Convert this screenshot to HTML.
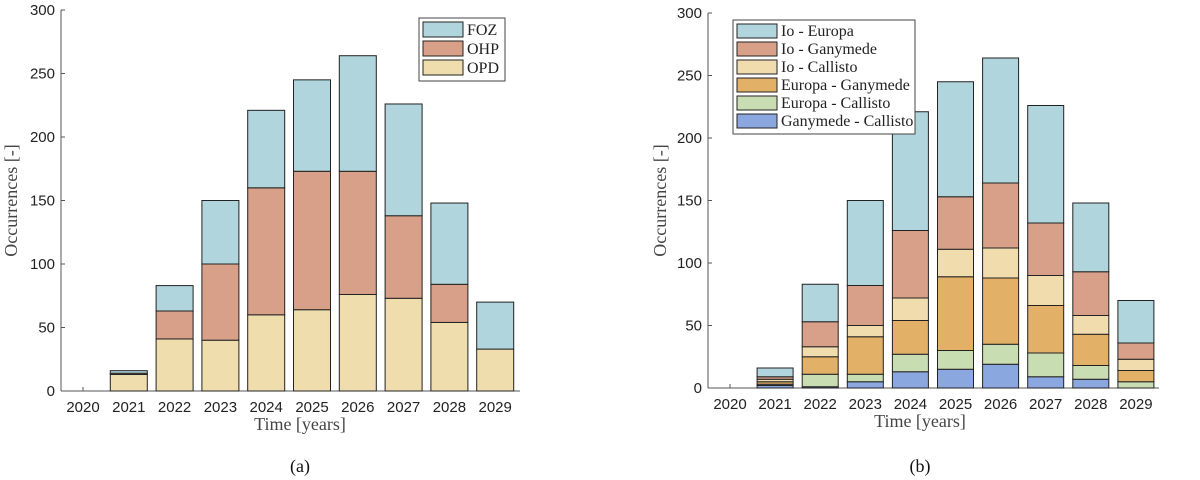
<!DOCTYPE html>
<html><head><meta charset="utf-8"><style>
html,body{margin:0;padding:0;background:#fff;width:1200px;height:480px;overflow:hidden}
svg text{font-family:"Liberation Sans",sans-serif}
.serif{font-family:"Liberation Serif",serif}
</style></head><body>
<svg id="svg" width="1200" height="480" xmlns="http://www.w3.org/2000/svg"></svg>
<script>
const years=[2020,2021,2022,2023,2024,2025,2026,2027,2028,2029];
const yTicks=[0,50,100,150,200,250,300];
// chart a (bottom to top)
const aNames=["OPD","OHP","FOZ"];
const opd=[0,13,41,40,60,64,76,73,54,33];
const ohp=[0,1,22,60,100,109,97,65,30,0];
const foz=[0,2,20,50,61,72,91,88,64,37];
// chart b (bottom to top)
const bNames=["Ganymede - Callisto","Europa - Callisto","Europa - Ganymede","Io - Callisto","Io - Ganymede","Io - Europa"];
const ganCal=[0,2,1,5,13,15,19,9,7,0];
const eurCal=[0,1,10,6,14,15,16,19,11,5];
const eurGan=[0,2,14,30,27,59,53,38,25,9];
const ioCal=[0,2,8,9,18,22,24,24,15,9];
const ioGan=[0,2,20,32,54,42,52,42,35,13];
const ioEur=[0,7,30,68,95,92,100,94,55,34];

const NS="http://www.w3.org/2000/svg";
const svg=document.getElementById('svg');
function mk(tag,attrs,parent,text){const e=document.createElementNS(NS,tag);for(const k in attrs)e.setAttribute(k,attrs[k]);if(text!==undefined)e.textContent=text;(parent||svg).appendChild(e);return e;}

function chart(cfg){
  const g=mk('g',{});
  
  
  const y=v=>cfg.y0-(v/300)*(cfg.y0-cfg.y300);
  const x=i=>cfg.x2020+i*cfg.step;
  const ax=mk('line',{x1:cfg.left,y1:cfg.y0,x2:cfg.left,y2:cfg.y300,stroke:'#555','stroke-width':1},g);
  
  
  const bx=mk('line',{x1:cfg.left,y1:cfg.y0,x2:cfg.right,y2:cfg.y0,stroke:'#555','stroke-width':1},g);
  
  
  yTicks.forEach(t=>{
    mk('line',{x1:cfg.left,y1:y(t),x2:cfg.left+4,y2:y(t),stroke:'#555'},g);
    const tl=mk('text',{x:cfg.left-6,y:y(t)+5,'text-anchor':'end','font-size':15,fill:'#222'},g,t);
    
    
  });
  years.forEach((yr,i)=>{
    mk('line',{x1:x(i),y1:cfg.y0,x2:x(i),y2:cfg.y0-4,stroke:'#555'},g);
    const tl=mk('text',{x:x(i),y:cfg.y0+21,'text-anchor':'middle','font-size':15,fill:'#222'},g,yr);
    
    
  });
  years.forEach((yr,i)=>{
    let cum=0;
    cfg.series.forEach((s,k)=>{
      const v=s[i];
      const r=mk('rect',{x:x(i)-cfg.bw/2,y:y(cum+v),width:cfg.bw,height:Math.max(y(cum)-y(cum+v),0),fill:cfg.colors[k],stroke:'#222','stroke-width':1},g);
      
      
      cum+=v;
    });
  });
  const xt=mk('text',{x:cfg.xlabelX,y:cfg.y0+39,'text-anchor':'middle','font-size':18,fill:'#444',class:'serif'},g,'Time [years]');
  
  
  const yt=mk('text',{x:0,y:0,'text-anchor':'middle','font-size':18,fill:'#444',class:'serif',transform:`translate(${cfg.ylabelX},${(cfg.y0+cfg.y300)/2}) rotate(-90)`},g,'Occurrences [-]');
  
  
  const cap=mk('text',{x:cfg.xlabelX,y:472,'text-anchor':'middle','font-size':18,fill:'#111',class:'serif'},g,cfg.caption);
  
  
  const L=cfg.legend;
  const lg=mk('g',{},g);
  
  
  mk('rect',{x:L.x,y:L.y,width:L.w,height:L.rowH*cfg.names.length+6,fill:'#fff',stroke:'#444'},lg);
  for(let j=cfg.names.length-1,r=0;j>=0;j--,r++){
    const yy=L.y+4+r*L.rowH;
    const sw=mk('rect',{x:L.x+4,y:yy,width:40,height:L.rowH-4,fill:cfg.colors[j],stroke:'#222'},lg);
    
    
    const t=mk('text',{x:L.x+48,y:yy+L.rowH-6,'font-size':16,fill:'#222',class:'serif'},lg,cfg.names[j]);
    
    
  }
}
chart({id:'chart-a',left:61,right:520,y0:391,y300:10,x2020:83,step:45.8,bw:37,
  series:[opd,ohp,foz],names:aNames,colors:['#f0ddae','#d8a088','#b0d5dc'],
  xlabelX:300,ylabelX:17,caption:'(a)',legend:{x:419,y:18,w:86,rowH:19}});
chart({id:'chart-b',left:708,right:1159,y0:388,y300:13,x2020:730,step:45.1,bw:36,
  series:[ganCal,eurCal,eurGan,ioCal,ioGan,ioEur],names:bNames,
  colors:['#8aa7e0','#c9ddb2','#e2b066','#f1dcae','#d8a088','#b0d5dc'],
  xlabelX:920,ylabelX:666,caption:'(b)',legend:{x:733,y:20,w:182,rowH:18}});
</script>
</body></html>
